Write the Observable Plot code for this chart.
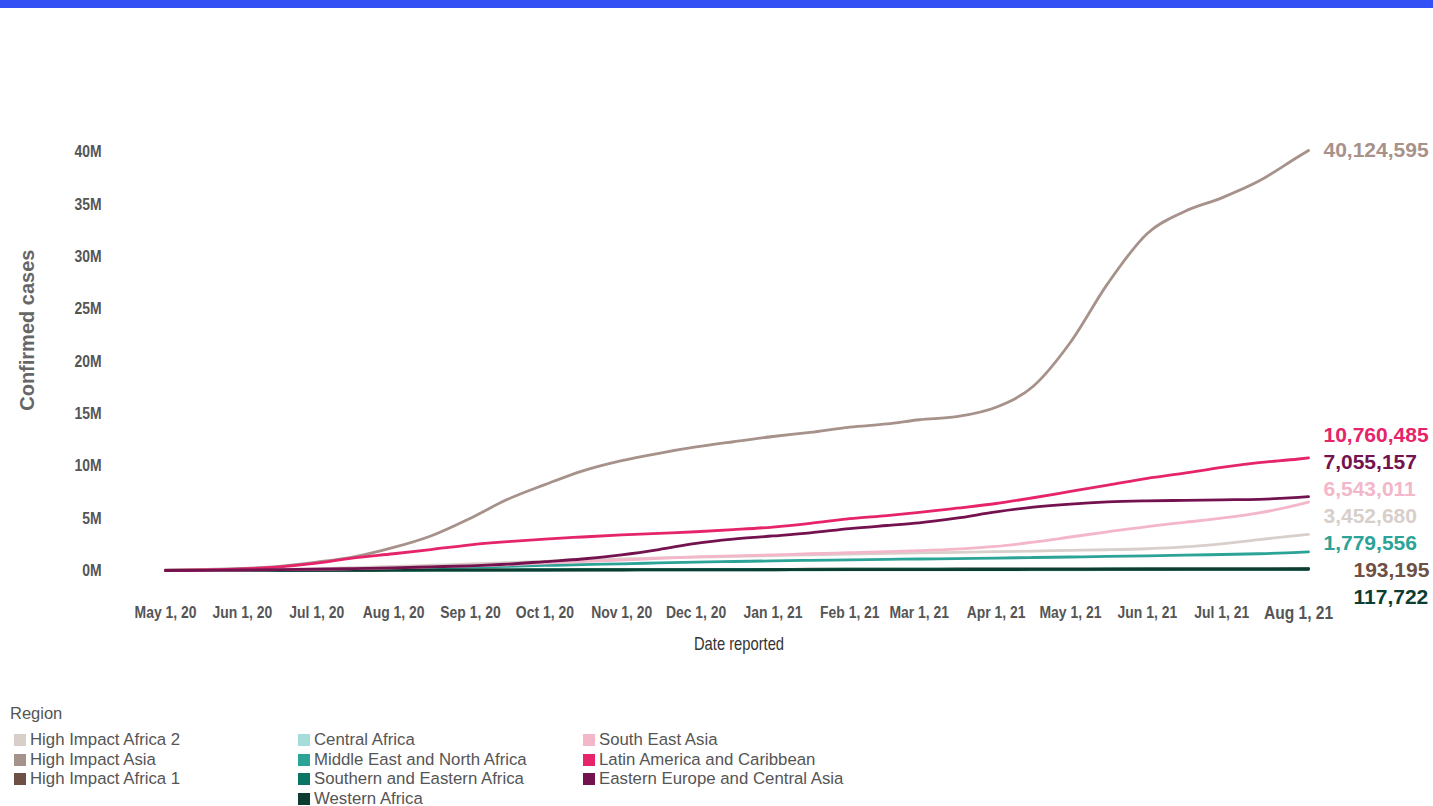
<!DOCTYPE html>
<html>
<head>
<meta charset="utf-8">
<script src="https://cdn.jsdelivr.net/npm/d3@7"></script>
<script src="https://cdn.jsdelivr.net/npm/@observablehq/plot@0.6"></script>
<style>
  html, body { margin: 0; padding: 0; background: #ffffff; }
  body { position: relative; width: 1433px; height: 806px; overflow: hidden; font-family: "Liberation Sans", Arial, sans-serif; }
  #topbar { position: absolute; left: 0; top: 0; width: 1433px; height: 8px; background: #3350f5; }
  #chart { position: absolute; left: 0; top: 0; }
  #legend { position: absolute; left: 0; top: 700px; width: 870px; color: #555; }
  #legend .title { position: absolute; left: 10px; top: 4px; font-size: 16.5px; color: #555; }
  #legend .item { position: absolute; font-size: 16.8px; line-height: 19px; white-space: nowrap; color: #555; }
  #legend .sw { display: inline-block; width: 12px; height: 12px; margin-right: 4px; vertical-align: -1px; }
</style>
</head>
<body>
<div id="topbar"></div>
<div id="chart"></div>
<div id="legend"></div>
<script>
// ---------- data ----------
const dates = [
  "2020-05-01","2020-05-16","2020-06-01","2020-06-16","2020-07-01","2020-07-16",
  "2020-08-01","2020-08-16","2020-09-01","2020-09-16","2020-10-01","2020-10-16",
  "2020-11-01","2020-11-16","2020-12-01","2020-12-16","2021-01-01","2021-01-16",
  "2021-02-01","2021-02-16","2021-03-01","2021-03-16","2021-04-01","2021-04-16",
  "2021-05-01","2021-05-16","2021-06-01","2021-06-16","2021-07-01","2021-07-16",
  "2021-08-01","2021-08-05"
];

const regions = [
  "High Impact Africa 2", "High Impact Asia", "High Impact Africa 1",
  "Central Africa", "Middle East and North Africa", "Southern and Eastern Africa", "Western Africa",
  "South East Asia", "Latin America and Caribbean", "Eastern Europe and Central Asia"
];

const regionColors = [
  "#d8cfcb", "#a6928a", "#6e5044",
  "#a6dcd9", "#2ba396", "#0a7565", "#0c3d30",
  "#f4b6c9", "#e5246a", "#74124f"
];

// cumulative confirmed cases, millions
const highImpactAfrica2 = [0, 0.02, 0.05, 0.1, 0.17, 0.27, 0.38, 0.5, 0.62, 0.75, 0.88, 1.0, 1.1, 1.2, 1.28, 1.35, 1.42, 1.5, 1.57, 1.63, 1.68, 1.73, 1.8, 1.86, 1.92, 1.98, 2.08, 2.25, 2.55, 2.95, 3.35, 3.45];
const highImpactAsia = [0.05, 0.1, 0.2, 0.4, 0.8, 1.3, 2.2, 3.3, 5.0, 6.8, 8.2, 9.5, 10.5, 11.2, 11.8, 12.3, 12.8, 13.2, 13.7, 14.0, 14.4, 14.7, 15.6, 17.6, 21.8, 27.4, 32.2, 34.3, 35.6, 37.2, 39.55, 40.12];
const highImpactAfrica1 = [0, 0.004, 0.008, 0.013, 0.02, 0.027, 0.035, 0.043, 0.05, 0.057, 0.065, 0.073, 0.08, 0.089, 0.097, 0.105, 0.113, 0.12, 0.126, 0.131, 0.136, 0.141, 0.147, 0.153, 0.158, 0.163, 0.168, 0.172, 0.177, 0.183, 0.19, 0.193];
const centralAfrica = [0, 0.002, 0.004, 0.007, 0.01, 0.014, 0.018, 0.022, 0.025, 0.027, 0.029, 0.031, 0.033, 0.036, 0.039, 0.042, 0.046, 0.05, 0.054, 0.057, 0.06, 0.063, 0.066, 0.069, 0.072, 0.075, 0.078, 0.081, 0.084, 0.087, 0.09, 0.091];
const middleEastNorthAfrica = [0, 0.02, 0.04, 0.07, 0.1, 0.14, 0.19, 0.25, 0.32, 0.4, 0.48, 0.56, 0.64, 0.72, 0.8, 0.86, 0.92, 0.97, 1.02, 1.06, 1.1, 1.14, 1.19, 1.24, 1.29, 1.34, 1.4, 1.46, 1.53, 1.6, 1.73, 1.78];
const southernEasternAfrica = [0, 0.003, 0.008, 0.015, 0.025, 0.035, 0.045, 0.055, 0.062, 0.068, 0.073, 0.078, 0.083, 0.089, 0.095, 0.101, 0.108, 0.114, 0.119, 0.123, 0.126, 0.129, 0.132, 0.135, 0.138, 0.141, 0.144, 0.147, 0.15, 0.153, 0.157, 0.158];
const westernAfrica = [0, 0.002, 0.005, 0.01, 0.016, 0.022, 0.028, 0.033, 0.037, 0.04, 0.043, 0.046, 0.05, 0.055, 0.06, 0.066, 0.072, 0.078, 0.083, 0.087, 0.09, 0.093, 0.096, 0.099, 0.102, 0.105, 0.108, 0.11, 0.112, 0.114, 0.117, 0.118];
const southEastAsia = [0, 0.02, 0.04, 0.08, 0.12, 0.18, 0.25, 0.35, 0.45, 0.55, 0.7, 0.85, 1.0, 1.15, 1.3, 1.4, 1.5, 1.6, 1.7, 1.8, 1.9, 2.05, 2.3, 2.7, 3.2, 3.7, 4.2, 4.6, 5.0, 5.5, 6.3, 6.54];
const latinAmericaCaribbean = [0, 0.05, 0.15, 0.35, 0.7, 1.2, 1.6, 2.0, 2.45, 2.75, 3.0, 3.2, 3.4, 3.55, 3.7, 3.9, 4.15, 4.5, 4.95, 5.25, 5.55, 5.95, 6.4, 6.95, 7.55, 8.15, 8.8, 9.3, 9.85, 10.3, 10.65, 10.76];
const easternEuropeCentralAsia = [0, 0.02, 0.05, 0.08, 0.12, 0.18, 0.25, 0.35, 0.45, 0.6, 0.85, 1.1, 1.5, 2.0, 2.6, 3.0, 3.3, 3.6, 4.0, 4.3, 4.55, 5.0, 5.6, 6.05, 6.35, 6.55, 6.65, 6.7, 6.75, 6.8, 6.98, 7.055];

const seriesValues = [
  highImpactAfrica2, highImpactAsia, highImpactAfrica1,
  centralAfrica, middleEastNorthAfrica, southernEasternAfrica, westernAfrica,
  southEastAsia, latinAmericaCaribbean, easternEuropeCentralAsia
];

// latest reported totals shown at the line ends (null = not labelled)
const latestCases = [3452680, 40124595, 193195, null, 1779556, null, 117722, 6543011, 10760485, 7055157];

const yTicks = [0, 5, 10, 15, 20, 25, 30, 35, 40];
const xTicks = [
  "2020-05-01","2020-06-01","2020-07-01","2020-08-01","2020-09-01","2020-10-01",
  "2020-11-01","2020-12-01","2021-01-01","2021-02-01","2021-03-01","2021-04-01",
  "2021-05-01","2021-06-01","2021-07-01","2021-08-01"
];

// ---------- layout ----------
const W = 1433, H = 660;
const mLeft = 165, mRight = 125, mTop = 109.4, mBottom = 90;
const yMax = 44;
const parse = d3.utcParse("%Y-%m-%d");
const dateObjs = dates.map(parse);
const lastDate = dateObjs[dateObjs.length - 1];

const rows = regions.flatMap((r, i) =>
  dateObjs.map((d, j) => ({region: r, date: d, value: seriesValues[i][j]}))
);

// end labels: dodge vertically in pixel space (min gap), clamp bottom
const y0px = H - mBottom, y1px = mTop;
const py = v => y0px - (v / yMax) * (y0px - y1px);
const gap = 27;
let items = regions.map((r, i) => ({region: r, value: seriesValues[i][seriesValues[i].length - 1], total: latestCases[i]}))
  .filter(d => d.total != null)
  .map(d => ({...d, want: py(d.value)}))
  .sort((a, b) => b.want - a.want); // bottom first
const center = c => {
  const n = c.items.length;
  return d3.mean(c.items, (d, j) => d.want - gap * ((n - 1) / 2 - j));
};
let clusters = [];
for (const it of items) {
  const C = {items: [it]};
  C.c = center(C);
  clusters.push(C);
  while (clusters.length > 1) {
    const B = clusters[clusters.length - 1], A = clusters[clusters.length - 2];
    const bBottom = B.c + gap * (B.items.length - 1) / 2;
    const aTop = A.c - gap * (A.items.length - 1) / 2;
    if (bBottom > aTop - gap) {
      clusters.pop(); clusters.pop();
      const M = {items: A.items.concat(B.items)};
      M.c = center(M);
      clusters.push(M);
    } else break;
  }
}
for (const c of clusters) {
  const n = c.items.length;
  c.items.forEach((d, j) => d.pos = c.c + gap * ((n - 1) / 2 - j));
}
const maxBottom = y0px + gap;
let prev = null;
for (const d of items) {
  d.pos = prev === null ? Math.min(d.pos, maxBottom) : Math.min(d.pos, prev - gap);
  prev = d.pos;
}

const fmt = d3.format(",");
const labelMarks = items.map(d => Plot.text([d], {
  x: () => lastDate,
  y: "value",
  text: e => fmt(e.total),
  fill: "region",
  dx: d.total < 1e6 ? 45 : 15,
  dy: d.pos - d.want,
  textAnchor: "start",
  fontFamily: "'Liberation Sans', Arial, sans-serif",
  fontWeight: "bold",
  fontSize: 21
}));

const chart = Plot.plot({
  width: W,
  height: H,
  marginLeft: mLeft,
  marginRight: mRight,
  marginTop: mTop,
  marginBottom: mBottom,
  style: {
    fontFamily: "'Liberation Sans', Arial, sans-serif",
    fontSize: "17px",
    fontWeight: "bold",
    color: "#555",
    background: "transparent",
    overflow: "visible"
  },
  x: {
    type: "utc",
    domain: [dateObjs[0], lastDate],
    ticks: xTicks.map(parse),
    tickFormat: d3.utcFormat("%b %-d, %y"),
    tickSize: 0,
    tickPadding: 35,
    label: null
  },
  y: {
    domain: [0, yMax],
    ticks: yTicks,
    tickFormat: d => `${d}M`,
    tickSize: 0,
    tickPadding: 64,
    label: null
  },
  color: {domain: regions, range: regionColors},
  marks: [
    Plot.line(rows, {
      x: "date", y: "value", z: "region", stroke: "region",
      strokeWidth: 2.8, curve: "monotone-x"
    }),
    Plot.text(["Confirmed cases"], {
      frameAnchor: "left", rotate: -90, dx: -138, dy: -10, textAnchor: "middle",
      fontFamily: "'Liberation Sans', Arial, sans-serif", fontWeight: "bold",
      fontSize: 20, fill: "#666"
    }),
    Plot.text(["Date reported"], {
      frameAnchor: "bottom", dy: 79, dx: 2, textAnchor: "middle",
      fontFamily: "'Liberation Sans', Arial, sans-serif", fontWeight: "normal",
      fontSize: 18, fill: "#333"
    }),
    ...labelMarks
  ]
});
document.getElementById("chart").appendChild(chart);

// condensed look (the original uses a narrow face): squeeze text horizontally
function condense(el, s) {
  const xa = el.getAttribute("x");
  let x = 0;
  if (xa !== null && /^-?[\d.]+$/.test(xa.trim())) { x = +xa; el.removeAttribute("x"); }
  const t = el.getAttribute("transform") || "";
  el.setAttribute("transform", `${t} translate(${x},0) scale(${s},1)`);
}
const svg = d3.select(chart);
svg.selectAll('[aria-label^="x-axis"] text, [aria-label^="y-axis"] text').each(function () { condense(this, 0.82); });
svg.selectAll("text").filter(function () { return this.textContent === "Date reported"; }).each(function () { condense(this, 0.82); });
svg.selectAll('[aria-label^="x-axis"] text')
  .filter(function () { return this.textContent === "Aug 1, 21"; })
  .style("font-size", "19px");

// ---------- legend ----------
const legend = document.getElementById("legend");
const title = document.createElement("div");
title.className = "title";
title.textContent = "Region";
legend.appendChild(title);
const legendColumns = [[0, 1, 2], [3, 4, 5, 6], [7, 8, 9]];
const colX = [14, 298, 583];
legendColumns.forEach((col, ci) => {
  col.forEach((ri, k) => {
    const it = document.createElement("div");
    it.className = "item";
    it.style.left = colX[ci] + "px";
    it.style.top = (30 + k * 19.5) + "px";
    const sw = document.createElement("span");
    sw.className = "sw";
    sw.style.background = regionColors[ri];
    it.appendChild(sw);
    it.appendChild(document.createTextNode(regions[ri]));
    legend.appendChild(it);
  });
});
</script>
</body>
</html>
